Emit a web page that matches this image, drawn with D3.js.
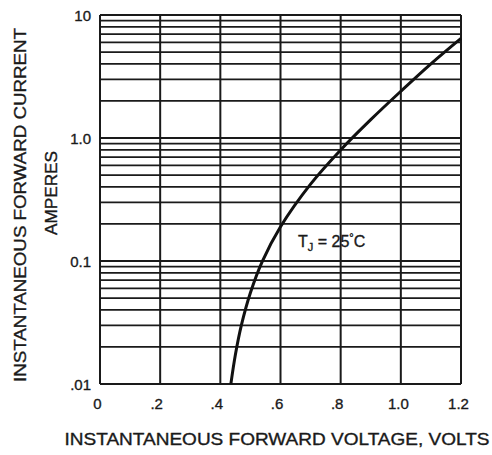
<!DOCTYPE html>
<html>
<head>
  <meta charset="utf-8">
  <title>Forward voltage</title>
  <style type="text/css">
    body {
      margin: 0;
      background-color: #fff;
    }
    svg {
      display: block;
      font-family: "Liberation Sans", Arial, sans-serif;
    }
    .grid line {
      stroke: #1a1a1a;
      stroke-width: 1.8;
    }
    .tick text {
      font-size: 15px;
      fill: #1a1a1a;
      stroke: #1a1a1a;
      stroke-width: 0.35;
    }
    .title {
      font-size: 17px;
      fill: #1a1a1a;
      stroke: #1a1a1a;
      stroke-width: 0.35;
    }
  </style>
  <script src="https://d3js.org/d3.v7.min.js"></script>
</head>
<body>
<script>
// values
var voltage = [0.435, 0.45, 0.47, 0.50, 0.54, 0.60, 0.70, 0.80, 0.90, 1.00, 1.10, 1.20];
var current = [0.01, 0.0173, 0.0301, 0.0552, 0.0998, 0.190, 0.422, 0.80, 1.41, 2.40, 4.01, 6.46];

var xTicks = [0, 0.2, 0.4, 0.6, 0.8, 1.0, 1.2];
var xTickLabels = ["0", ".2", ".4", ".6", ".8", "1.0", "1.2"];
var yTicks = [10, 1, 0.1, 0.01];
var yTickLabels = ["10", "1.0", "0.1", ".01"];

var width = 492, height = 455;
var margin = {top: 15, right: 31, bottom: 71, left: 100};

var svg = d3.select("body").append("svg")
  .attr("width", width)
  .attr("height", height);

var x = d3.scaleLinear()
  .domain([0, 1.2])
  .range([margin.left, width - margin.right]);

var y = d3.scaleLog()
  .domain([0.01, 10])
  .range([height - margin.bottom, margin.top]);

// minor log lines 1..9 in each decade
var hLines = [];
[0.01, 0.1, 1].forEach(function(dec) {
  for (var k = 1; k <= 9; k++) hLines.push(dec * k);
});
hLines.push(10);

var grid = svg.append("g").attr("class", "grid");

grid.selectAll("line.h")
  .data(hLines)
  .enter().append("line")
    .attr("class", "h")
    .attr("x1", x(0))
    .attr("x2", x(1.2))
    .attr("y1", function(d) { return y(d); })
    .attr("y2", function(d) { return y(d); });

grid.selectAll("line.v")
  .data(xTicks)
  .enter().append("line")
    .attr("class", "v")
    .attr("x1", function(d) { return x(d); })
    .attr("x2", function(d) { return x(d); })
    .attr("y1", y(10))
    .attr("y2", y(0.01))
    .style("stroke-width", 2);

// axes (labels only)
var xAxis = d3.axisBottom(x)
  .tickValues(xTicks)
  .tickSize(0)
  .tickPadding(14)
  .tickFormat(function(d, i) { return xTickLabels[i]; });

var gx = svg.append("g")
  .attr("transform", "translate(0," + y(0.01) + ")")
  .call(xAxis);
gx.select(".domain").remove();
gx.selectAll(".tick text")
  .attr("font-family", null)
  .attr("font-size", null)
  .attr("dx", function(d, i) { return xTickLabels[i].charAt(0) == "." ? -4 : -3; });

var yAxis = d3.axisLeft(y)
  .tickValues(yTicks)
  .tickSize(0)
  .tickPadding(9)
  .tickFormat(function(d, i) { return yTickLabels[i]; });

var gy = svg.append("g")
  .attr("transform", "translate(" + x(0) + ",0)")
  .call(yAxis);
gy.select(".domain").remove();
gy.selectAll(".tick text")
  .attr("font-family", null)
  .attr("font-size", null)
  .attr("dy", "0.36em");

// curve
var pts = voltage.map(function(v, i) { return [v, current[i]]; });
var line = d3.line()
  .x(function(d) { return x(d[0]); })
  .y(function(d) { return y(d[1]); })
  .curve(d3.curveCatmullRom.alpha(0.5));

svg.append("path")
  .datum(pts)
  .attr("d", line)
  .attr("fill", "none")
  .attr("stroke", "#111")
  .attr("stroke-width", 3);

// T_J label
var tj = svg.append("text")
  .attr("x", 298)
  .attr("y", 247)
  .attr("font-size", 16)
  .attr("fill", "#1a1a1a")
  .attr("stroke", "#1a1a1a")
  .attr("stroke-width", 0.35);
tj.append("tspan").text("T");
tj.append("tspan").attr("font-size", 11).attr("dy", 4).text("J");
tj.append("tspan").attr("dy", -4).text(" = 25");
tj.append("tspan").attr("font-size", 11).attr("dy", -6).text("°");
tj.append("tspan").attr("dy", 6).text("C");

// titles
svg.append("text")
  .attr("class", "title")
  .attr("x", 277)
  .attr("y", 445)
  .attr("text-anchor", "middle")
  .attr("textLength", 425)
  .attr("lengthAdjust", "spacingAndGlyphs")
  .text("INSTANTANEOUS FORWARD VOLTAGE, VOLTS");

svg.append("text")
  .attr("class", "title")
  .attr("transform", "translate(26,205) rotate(-90)")
  .attr("text-anchor", "middle")
  .attr("textLength", 354)
  .attr("lengthAdjust", "spacingAndGlyphs")
  .text("INSTANTANEOUS FORWARD CURRENT");

svg.append("text")
  .attr("class", "title")
  .attr("transform", "translate(57,193) rotate(-90)")
  .attr("text-anchor", "middle")
  .attr("textLength", 84)
  .attr("lengthAdjust", "spacingAndGlyphs")
  .text("AMPERES");
</script>
</body>
</html>
